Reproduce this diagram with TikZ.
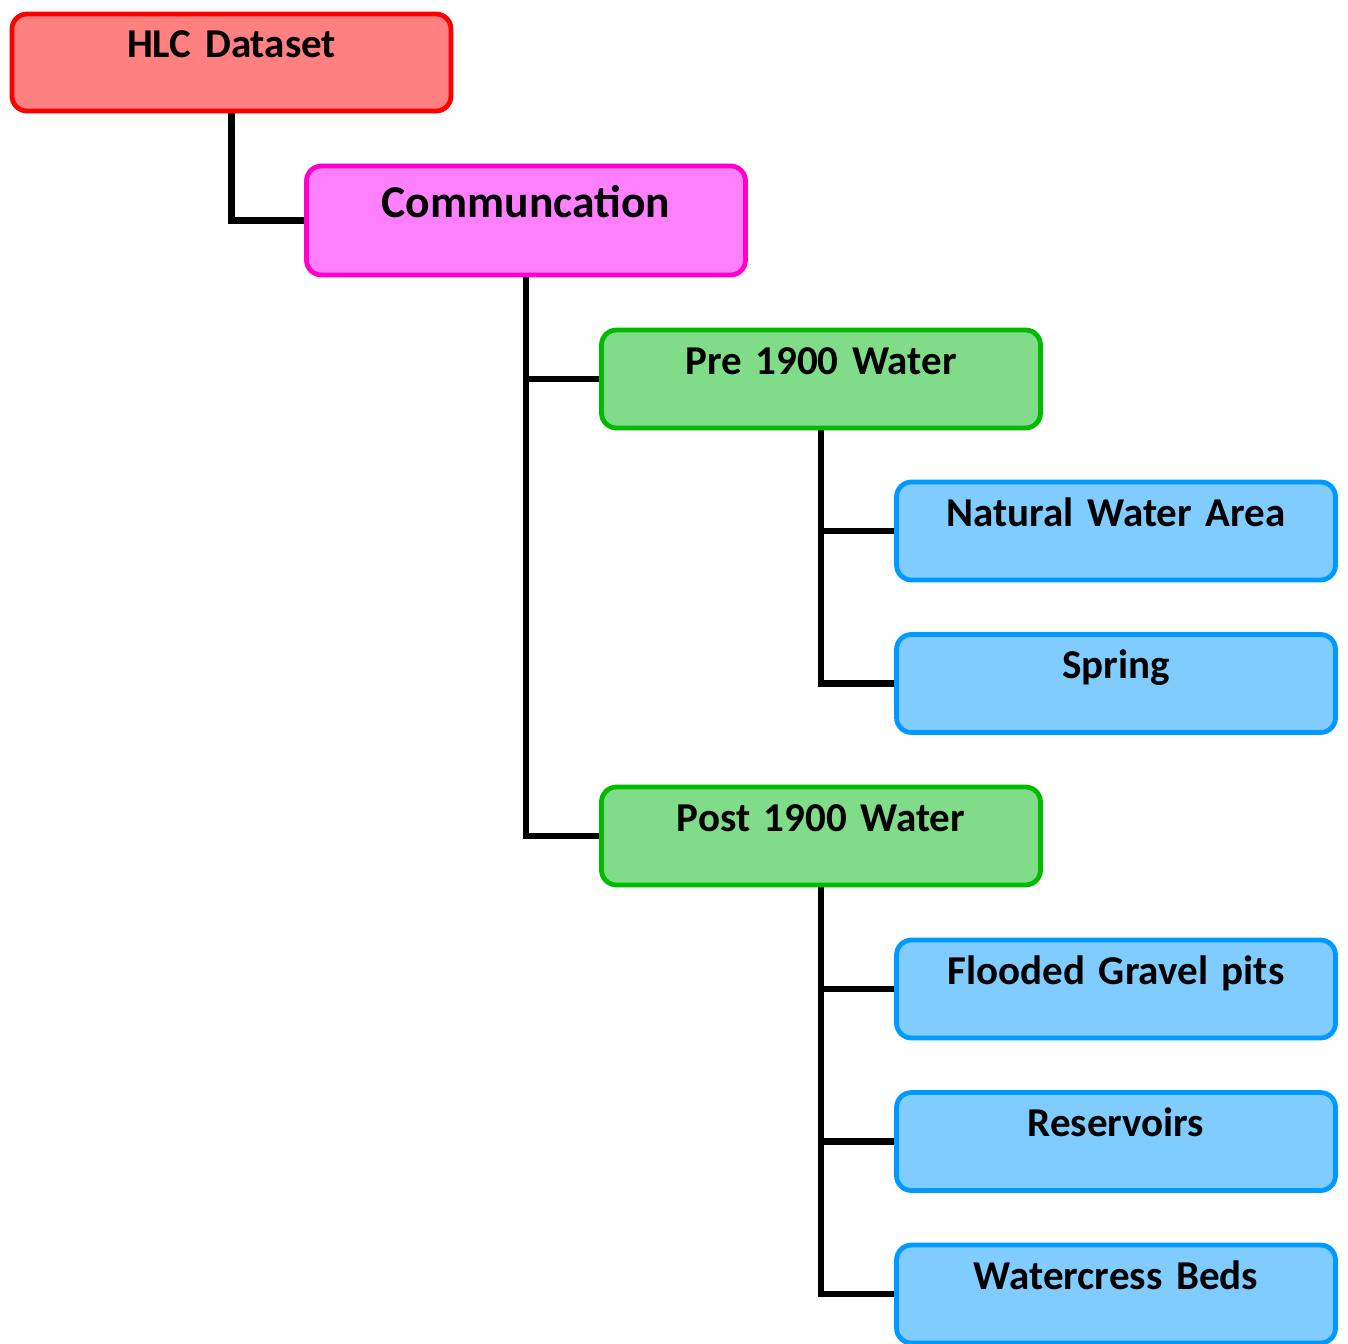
\documentclass[tikz,border=0pt]{standalone}
\usepackage{fontspec}
\setmainfont{Carlito}
\usetikzlibrary{backgrounds}
\definecolor{redfill}{RGB}{255,128,128}
\definecolor{redline}{RGB}{255,0,0}
\definecolor{pinkfill}{RGB}{255,128,255}
\definecolor{pinkline}{RGB}{255,0,204}
\definecolor{greenfill}{RGB}{128,220,136}
\definecolor{greenline}{RGB}{0,187,0}
\definecolor{bluefill}{RGB}{128,204,255}
\definecolor{blueline}{RGB}{0,153,255}
\newcommand{\boxfont}[1]{\bfseries\fontsize{#1}{#1}\selectfont\spaceskip=0.17em\relax}
\tikzset{
  box/.style={rectangle, rounded corners=7.5pt, line width=2.4pt, inner sep=0pt,
    minimum width=219.5pt, text width=219.5pt, align=center,
    font=\boxfont{20.5}, text height=22pt, text depth=27pt},
  redbox/.style={box, draw=redline, fill=redfill, text depth=26.5pt},
  pinkbox/.style={box, draw=pinkline, fill=pinkfill, font=\boxfont{22.8},
    text height=25.5pt, text depth=29pt},
  greenbox/.style={box, draw=greenline, fill=greenfill},
  bluebox/.style={box, draw=blueline, fill=bluefill},
  link/.style={line width=3.4pt, draw=black}
}
\begin{document}
\begin{tikzpicture}[x=0.5pt,y=-0.5pt]
\useasboundingbox (0,0) rectangle (1348,1343);
\node[redbox] (hlc) at (231.5,62.5) {HLC Dataset};
\node[pinkbox] (comm) at (526,220.5) {Communcation};
\node[greenbox] (pre) at (821,379) {Pre 1900 Water};
\node[bluebox] (nat) at (1116,531) {Natural Water Area};
\node[bluebox] (spring) at (1116,683.5) {Spring};
\node[greenbox] (post) at (821,836) {Post 1900 Water};
\node[bluebox] (flood) at (1116,989) {Flooded Gravel pits};
\node[bluebox] (res) at (1116,1141.5) {Reservoirs};
\node[bluebox] (cress) at (1116,1294) {Watercress Beds};
\begin{scope}[on background layer]
\draw[link] (hlc.south) |- (comm.west);
\draw[link] (comm.south) |- (pre.west);
\draw[link] (comm.south) |- (post.west);
\draw[link] (pre.south) |- (nat.west);
\draw[link] (pre.south) |- (spring.west);
\draw[link] (post.south) |- (flood.west);
\draw[link] (post.south) |- (res.west);
\draw[link] (post.south) |- (cress.west);
\end{scope}
\end{tikzpicture}
\end{document}
